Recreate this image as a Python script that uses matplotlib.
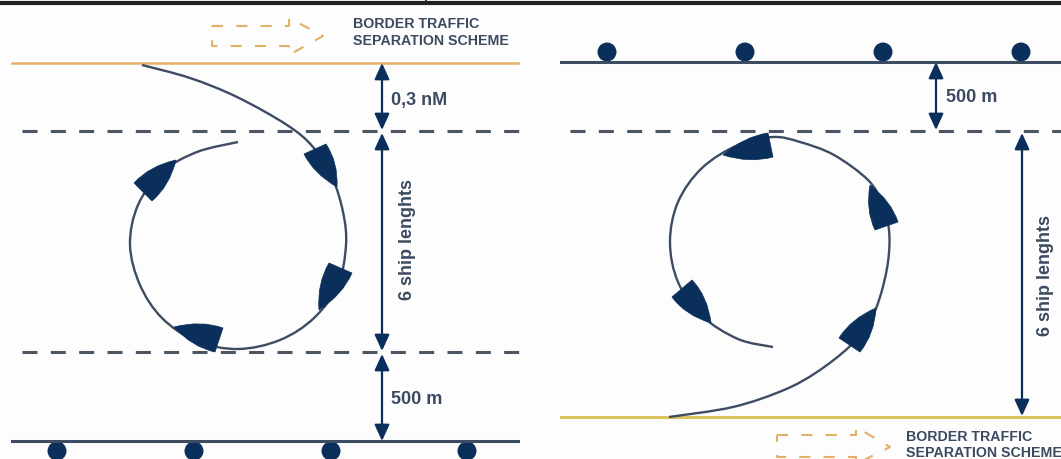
import numpy as np
import matplotlib
matplotlib.use("Agg")
import matplotlib.pyplot as plt
from matplotlib.path import Path
from matplotlib.patches import PathPatch, Circle

plt.rcParams['font.family'] = ['Liberation Sans', 'DejaVu Sans']
plt.rcParams['lines.scale_dashes'] = False

NAVY = '#0b2f5b'
LINE = '#3d4c61'
TEXT = '#3c4a60'
ORANGE = '#e3b066'
YELLOW = '#d8c35c'
DASH = '#4c5663'

# left panel, pixel coordinates of the picture
left_track = [(142, 65), (190, 78), (237, 97), (287, 125), (313, 147), (332, 177), (343, 212),
              (346, 245), (338, 285), (314, 318), (280, 340), (238, 349), (196, 341), (162, 318),
              (140, 285), (130, 245), (138, 205), (162, 172), (197, 152), (238, 142)]
left_ships = [((176, 160), (134, 183), (152, 201)),
              ((337, 187), (304, 154), (326, 144)),
              ((319, 310), (329, 263), (352, 273)),
              ((174, 327), (223, 328), (215, 352))]
left_dots = [57, 194, 331, 467]

# right panel
right_track = [(669, 417), (733, 407), (784, 390), (817, 372), (848, 348), (868, 325), (880, 297),
               (888, 262), (889, 230), (882, 203), (868, 180), (834, 155), (800, 142), (773, 137),
               (738, 145), (702, 168), (678, 202), (670, 242), (678, 282), (702, 316), (738, 339),
               (773, 347)]
right_ships = [((723, 155), (768, 133), (773, 157)),
               ((870, 185), (898, 222), (875, 230)),
               ((876, 308), (839, 338), (860, 352)),
               ((711, 323), (672, 297), (692, 280))]
right_dots = [607, 745, 883, 1021]

# (x, y_start, y_end)
left_arrows = [(382, 63, 130), (382, 133, 351), (382, 354, 441)]
right_arrows = [(936, 62, 130), (1022, 133, 416)]

# outline of the dashed scheme arrow
left_scheme = [(212, 26), (289, 26), (289, 18), (323, 36), (289, 55), (289, 46), (212, 46)]
right_scheme = [(777, 435), (856, 435), (856, 427), (890, 447), (856, 464), (856, 457), (777, 457)]

labels = [(391, 100, '0,3 nM', 0), (391, 399, '500 m', 0), (946, 98, '500 m', 0),
          (407, 239, '6 ship lenghts', 90), (1045, 275, '6 ship lenghts', 90)]
scheme_text = [(353, 24, 'BORDER TRAFFIC'), (353, 41, 'SEPARATION SCHEME'),
               (906, 437, 'BORDER TRAFFIC'), (906, 453, 'SEPARATION SCHEME')]


def smooth_path(pts):
    # catmull-rom through the read points, written as bezier segments
    p = np.array(pts, dtype=float)
    verts = [p[0]]
    codes = [Path.MOVETO]
    for i in range(len(p) - 1):
        p0 = p[max(i - 1, 0)]
        p3 = p[min(i + 2, len(p) - 1)]
        verts += [p[i] + (p[i + 1] - p0) / 6, p[i + 1] - (p3 - p[i]) / 6, p[i + 1]]
        codes += [Path.CURVE4] * 3
    return Path(verts, codes)


def draw_ship(ax, tip, b1, b2):
    tip, b1, b2 = np.array(tip, float), np.array(b1, float), np.array(b2, float)
    mid = (b1 + b2) / 2
    axis = tip - mid
    c1 = b1 + axis * 0.5 + (b1 - mid) * 0.12
    c2 = b2 + axis * 0.5 + (b2 - mid) * 0.12
    verts = [b1, b2, c2, tip, c1, b1, b1]
    codes = [Path.MOVETO, Path.LINETO, Path.CURVE3, Path.CURVE3, Path.CURVE3, Path.CURVE3, Path.CLOSEPOLY]
    ax.add_patch(PathPatch(Path(verts, codes), fc=NAVY, ec=NAVY, lw=0.5, zorder=5))


def draw_panel(ax, track, ships, arrows):
    ax.add_patch(PathPatch(smooth_path(track), fc='none', ec=LINE, lw=1.7, zorder=4))
    for tip, b1, b2 in ships:
        draw_ship(ax, tip, b1, b2)
    for x, y0, y1 in arrows:
        ax.annotate('', xy=(x, y1), xytext=(x, y0),
                    arrowprops=dict(arrowstyle='<|-|>,head_length=0.7,head_width=0.32', color=NAVY,
                                    lw=1.6, shrinkA=0, shrinkB=0, mutation_scale=14), zorder=6)


fig = plt.figure(figsize=(10.61, 4.59), dpi=100, facecolor='#fdfdfe')
ax = fig.add_axes([0, 0, 1, 1])
ax.set_xlim(0, 1061)
ax.set_ylim(459, 0)
ax.axis('off')

# black rule along the top edge
ax.plot([0, 1061], [3, 3], color='#222222', lw=3, solid_capstyle='butt')
ax.plot([426, 426], [0, 3], color='#222222', lw=1.2)

# left: border on top, shore with buoys below
ax.plot([12, 518], [62.5, 62.5], color=ORANGE, lw=1.8)
ax.plot([12, 518], [441, 441], color=LINE, lw=2.2, zorder=3)
for y in [131, 352]:
    ax.plot([22, 520], [y, y], color=DASH, lw=2.2, ls=(0, (10.8, 9.6)))
for x in left_dots:
    ax.add_patch(Circle((x, 451), 9.5, fc=NAVY, ec='none', zorder=2))

# right: shore with buoys on top, border below
ax.plot([561, 1061], [62, 62], color=LINE, lw=2.2, zorder=3)
ax.plot([561, 1061], [417, 417], color=YELLOW, lw=2.2)
ax.plot([570, 1061], [131, 131], color=DASH, lw=2.2, ls=(0, (10.8, 9.6)))
for x in right_dots:
    ax.add_patch(Circle((x, 52), 9.5, fc=NAVY, ec='none', zorder=2))

draw_panel(ax, left_track, left_ships, left_arrows)
draw_panel(ax, right_track, right_ships, right_arrows)

for scheme in (left_scheme, right_scheme):
    xs, ys = zip(*(scheme + scheme[:1]))
    ax.plot(xs, ys, color=ORANGE, lw=1.5, ls=(0, (8, 9.5)))

for x, y, s, rot in labels:
    if rot:
        ax.text(x, y, s, rotation=rot, ha='center', va='center', fontsize=13, fontweight='bold', color=TEXT)
    else:
        ax.text(x, y, s, ha='left', va='center', fontsize=13, fontweight='bold', color=TEXT)
for x, y, s in scheme_text:
    ax.text(x, y, s, ha='left', va='center', fontsize=10.2, fontweight='bold', color=TEXT, clip_on=True)

fig.savefig('out.png', dpi=100, facecolor=fig.get_facecolor())
